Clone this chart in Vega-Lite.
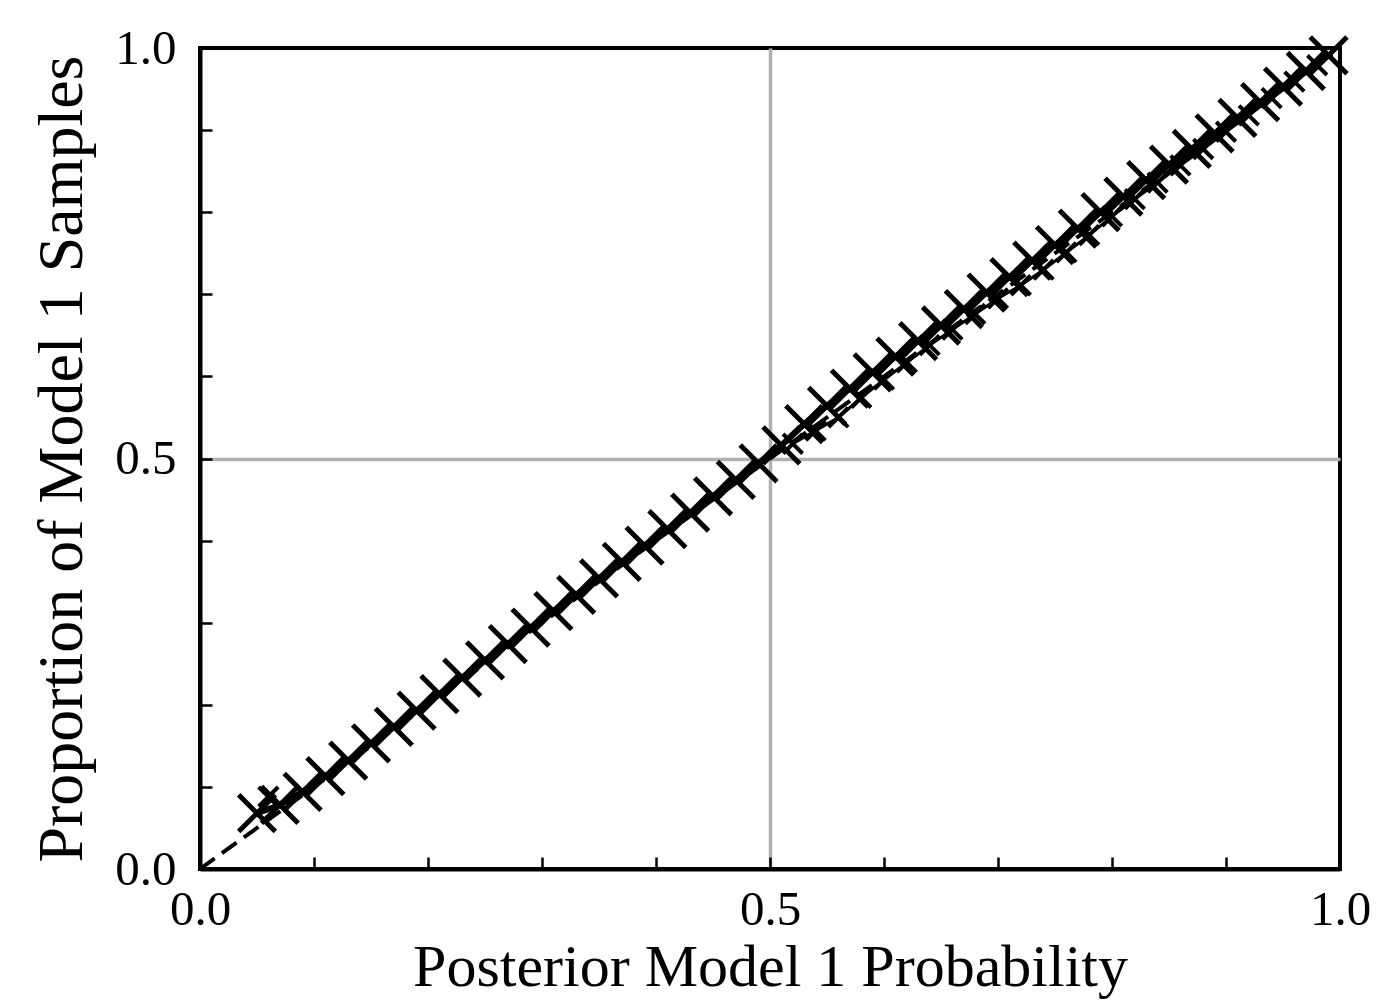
{
  "$schema": "https://vega.github.io/schema/vega-lite/v6.json",
  "autosize": {"type": "none"},
  "width": 1140,
  "height": 821,
  "padding": {"left": 200, "top": 48, "right": 36, "bottom": 138},
  "background": "white",
  "config": {
    "view": {"stroke": "black", "strokeWidth": 4},
    "font": "Liberation Serif",
    "axis": {
      "domainColor": "black",
      "domainWidth": 4,
      "tickColor": "black",
      "tickWidth": 2.5,
      "tickSize": -12,
      "labelFont": "Liberation Serif",
      "labelFontSize": 49,
      "labelColor": "black",
      "titleFont": "Liberation Serif",
      "titleFontSize": 64,
      "titleFontWeight": "normal",
      "titleColor": "black",
      "gridColor": "#b0b0b0",
      "gridWidth": 3.5
    }
  },
  "datasets": {
    "diag": [{"x": 0, "y": 0}, {"x": 1, "y": 1}],
    "cal": [
      {"series": "A", "x": 0.05, "y": 0.068},
      {"series": "A", "x": 0.07, "y": 0.078},
      {"series": "A", "x": 0.09, "y": 0.094},
      {"series": "A", "x": 0.11, "y": 0.113},
      {"series": "A", "x": 0.13, "y": 0.132},
      {"series": "A", "x": 0.15, "y": 0.153},
      {"series": "A", "x": 0.17, "y": 0.173},
      {"series": "A", "x": 0.19, "y": 0.193},
      {"series": "A", "x": 0.21, "y": 0.213},
      {"series": "A", "x": 0.23, "y": 0.233},
      {"series": "A", "x": 0.25, "y": 0.254},
      {"series": "A", "x": 0.27, "y": 0.274},
      {"series": "A", "x": 0.29, "y": 0.294},
      {"series": "A", "x": 0.31, "y": 0.314},
      {"series": "A", "x": 0.33, "y": 0.334},
      {"series": "A", "x": 0.35, "y": 0.354},
      {"series": "A", "x": 0.37, "y": 0.374},
      {"series": "A", "x": 0.39, "y": 0.394},
      {"series": "A", "x": 0.41, "y": 0.414},
      {"series": "A", "x": 0.43, "y": 0.434},
      {"series": "A", "x": 0.45, "y": 0.454},
      {"series": "A", "x": 0.47, "y": 0.474},
      {"series": "A", "x": 0.49, "y": 0.494},
      {"series": "A", "x": 0.51, "y": 0.516},
      {"series": "A", "x": 0.53, "y": 0.542},
      {"series": "A", "x": 0.55, "y": 0.564},
      {"series": "A", "x": 0.57, "y": 0.585},
      {"series": "A", "x": 0.59, "y": 0.605},
      {"series": "A", "x": 0.61, "y": 0.624},
      {"series": "A", "x": 0.63, "y": 0.643},
      {"series": "A", "x": 0.65, "y": 0.662},
      {"series": "A", "x": 0.67, "y": 0.682},
      {"series": "A", "x": 0.69, "y": 0.702},
      {"series": "A", "x": 0.71, "y": 0.721},
      {"series": "A", "x": 0.73, "y": 0.741},
      {"series": "A", "x": 0.75, "y": 0.760},
      {"series": "A", "x": 0.77, "y": 0.780},
      {"series": "A", "x": 0.79, "y": 0.800},
      {"series": "A", "x": 0.81, "y": 0.819},
      {"series": "A", "x": 0.83, "y": 0.839},
      {"series": "A", "x": 0.85, "y": 0.858},
      {"series": "A", "x": 0.87, "y": 0.877},
      {"series": "A", "x": 0.89, "y": 0.896},
      {"series": "A", "x": 0.91, "y": 0.915},
      {"series": "A", "x": 0.93, "y": 0.934},
      {"series": "A", "x": 0.95, "y": 0.953},
      {"series": "A", "x": 0.97, "y": 0.972},
      {"series": "A", "x": 0.99, "y": 0.991},
      {"series": "B", "x": 0.06, "y": 0.088},
      {"series": "B", "x": 0.52, "y": 0.518},
      {"series": "B", "x": 0.54, "y": 0.534},
      {"series": "B", "x": 0.56, "y": 0.550},
      {"series": "B", "x": 0.58, "y": 0.574},
      {"series": "B", "x": 0.60, "y": 0.596},
      {"series": "B", "x": 0.62, "y": 0.617},
      {"series": "B", "x": 0.64, "y": 0.638},
      {"series": "B", "x": 0.66, "y": 0.657},
      {"series": "B", "x": 0.68, "y": 0.676},
      {"series": "B", "x": 0.70, "y": 0.695},
      {"series": "B", "x": 0.72, "y": 0.711},
      {"series": "B", "x": 0.74, "y": 0.730},
      {"series": "B", "x": 0.76, "y": 0.751},
      {"series": "B", "x": 0.78, "y": 0.772},
      {"series": "B", "x": 0.80, "y": 0.795},
      {"series": "B", "x": 0.82, "y": 0.816},
      {"series": "B", "x": 0.84, "y": 0.836},
      {"series": "B", "x": 0.86, "y": 0.857},
      {"series": "B", "x": 0.88, "y": 0.877},
      {"series": "B", "x": 0.90, "y": 0.898},
      {"series": "B", "x": 0.92, "y": 0.918},
      {"series": "B", "x": 0.94, "y": 0.939},
      {"series": "B", "x": 0.96, "y": 0.959},
      {"series": "B", "x": 0.98, "y": 0.979}
    ]
  },
  "encoding": {
    "x": {
      "field": "x", "type": "quantitative",
      "scale": {"domain": [0, 1], "nice": false, "zero": false},
      "axis": {
        "title": "Posterior Model 1 Probability",
        "titleFontSize": 60,
        "values": [0, 0.1, 0.2, 0.3, 0.4, 0.5, 0.6, 0.7, 0.8, 0.9, 1],
        "labelExpr": "datum.value == 0 || datum.value == 0.5 || datum.value == 1 ? format(datum.value, '.1f') : ''",
        "grid": true,
        "gridOpacity": {"condition": {"test": "datum.value == 0.5", "value": 1}, "value": 0},
        "labelPadding": 28,
        "titlePadding": 4,
        "labelFlush": false
      }
    },
    "y": {
      "field": "y", "type": "quantitative",
      "scale": {"domain": [0, 1], "nice": false, "zero": false},
      "axis": {
        "title": "Proportion of Model 1 Samples",
        "values": [0, 0.1, 0.2, 0.3, 0.4, 0.5, 0.6, 0.7, 0.8, 0.9, 1],
        "labelExpr": "datum.value == 0 || datum.value == 0.5 || datum.value == 1 ? format(datum.value, '.1f') : ''",
        "grid": true,
        "gridOpacity": {"condition": {"test": "datum.value == 0.5", "value": 1}, "value": 0},
        "labelPadding": 36,
        "titlePadding": 20,
        "labelFlush": false
      }
    }
  },
  "layer": [
    {
      "data": {"name": "diag"},
      "mark": {"type": "line", "color": "black", "strokeWidth": 4, "strokeDash": [18, 9]}
    },
    {
      "data": {"name": "cal"},
      "transform": [{"filter": "datum.series == 'B' && datum.x > 0.5"}],
      "mark": {"type": "line", "color": "black", "strokeWidth": 3}
    },
    {
      "data": {"name": "cal"},
      "transform": [{"filter": "datum.series == 'B'"}],
      "mark": {"type": "point", "shape": "M-1,-1L1,1M1,-1L-1,1", "filled": false, "color": "black", "strokeWidth": 4, "size": 380, "opacity": 1}
    },
    {
      "data": {"name": "cal"},
      "transform": [{"filter": "datum.series == 'A'"}],
      "mark": {"type": "line", "color": "black", "strokeWidth": 6}
    },
    {
      "data": {"name": "cal"},
      "transform": [{"filter": "datum.series == 'A'"}],
      "mark": {"type": "point", "shape": "M-1,-1L1,1M1,-1L-1,1", "filled": false, "color": "black", "strokeWidth": 5, "size": 1350, "opacity": 1}
    }
  ]
}
